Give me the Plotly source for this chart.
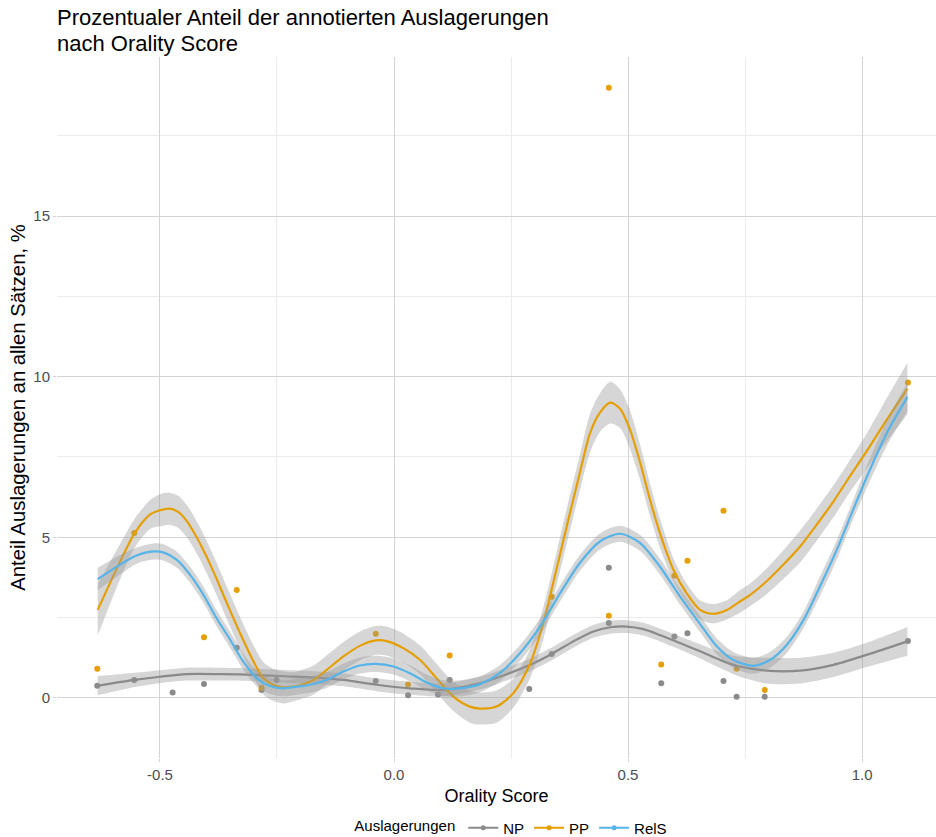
import plotly.graph_objects as go

# ---------------- data ----------------
# observed points (Orality Score vs. percentage)
pt_x = [-0.634, -0.555, -0.473, -0.406, -0.336, -0.283, -0.251, -0.039, 0.030, 0.094, 0.119,
        0.289, 0.337, 0.459, 0.459, 0.571, 0.599, 0.627, 0.704, 0.732, 0.792, 1.098]
np_pts = [0.38, 0.56, 0.17, 0.43, 1.56, 0.25, 0.56, 0.53, 0.08, 0.11, 0.56,
          0.28, 1.37, 4.05, 2.33, 0.46, 1.91, 2.01, 0.53, 0.04, 0.04, 1.77]
pp_pts = [0.91, 5.13, None, 1.89, 3.36, 0.32, None, 2.00, 0.42, None, 1.32,
          None, 3.15, 18.99, 2.56, 1.04, 3.80, 4.27, 5.83, 0.91, 0.25, 9.82]

# smoothed curves
pp_cx = [-0.633, -0.585, -0.554, -0.521, -0.50, -0.48, -0.461, -0.44, -0.415, -0.386, -0.357, -0.329,
         -0.30, -0.279, -0.258, -0.237, -0.215, -0.172, -0.144, -0.108, -0.073, -0.039, -0.016, 0.02,
         0.056, 0.091, 0.127, 0.162, 0.184, 0.219, 0.255, 0.291, 0.319, 0.34, 0.369, 0.397, 0.419,
         0.44, 0.462, 0.483, 0.504, 0.526, 0.547, 0.568, 0.597, 0.625, 0.654, 0.682, 0.711, 0.739,
         0.761, 0.796, 0.832, 0.868, 0.903, 0.939, 0.974, 1.01, 1.046, 1.097]
pp_cy = [2.74, 4.25, 5.13, 5.71, 5.84, 5.89, 5.79, 5.45, 4.82, 3.94, 2.95, 2.02,
         1.13, 0.61, 0.41, 0.33, 0.35, 0.56, 0.87, 1.29, 1.62, 1.79, 1.77, 1.55,
         1.18, 0.61, 0.04, -0.27, -0.33, -0.27, 0.15, 1.08, 2.33, 3.57, 5.34, 7.0, 8.25,
         8.88, 9.19, 9.0, 8.36, 7.32, 6.17, 5.14, 3.99, 3.26, 2.74, 2.62, 2.74, 3.0,
         3.21, 3.63, 4.15, 4.72, 5.39, 6.12, 6.90, 7.68, 8.51, 9.63]
pp_se = [0.8, 0.55, 0.45, 0.45, 0.5, 0.5, 0.5, 0.5, 0.5, 0.5, 0.5, 0.5,
         0.5, 0.5, 0.5, 0.5, 0.45, 0.45, 0.45, 0.45, 0.45, 0.45, 0.45, 0.45,
         0.45, 0.45, 0.45, 0.5, 0.5, 0.5, 0.45, 0.45, 0.5, 0.5, 0.55, 0.55, 0.6,
         0.6, 0.65, 0.6, 0.6, 0.55, 0.5, 0.45, 0.35, 0.3, 0.3, 0.3, 0.3, 0.35,
         0.35, 0.4, 0.45, 0.5, 0.5, 0.5, 0.5, 0.55, 0.65, 0.8]

rels_cx = [-0.633, -0.585, -0.55, -0.514, -0.493, -0.464, -0.436, -0.407, -0.379, -0.35, -0.322,
           -0.293, -0.265, -0.237, -0.208, -0.179, -0.144, -0.108, -0.073, -0.039, -0.001, 0.034,
           0.07, 0.105, 0.141, 0.184, 0.226, 0.269, 0.312, 0.355, 0.397, 0.44, 0.483, 0.526, 0.568,
           0.611, 0.654, 0.69, 0.725, 0.768, 0.803, 0.839, 0.875, 0.91, 0.946, 0.981, 1.017, 1.053, 1.097]
rels_cy = [3.70, 4.15, 4.43, 4.56, 4.53, 4.30, 3.84, 3.21, 2.48, 1.81, 1.13,
           0.61, 0.37, 0.30, 0.35, 0.41, 0.56, 0.82, 1.01, 1.06, 0.98, 0.77,
           0.48, 0.30, 0.30, 0.43, 0.77, 1.39, 2.22, 3.26, 4.2, 4.87, 5.11, 4.82, 4.09,
           3.16, 2.3, 1.6, 1.18, 1.0, 1.18, 1.65, 2.43, 3.47, 4.61, 5.86, 7.11, 8.25, 9.37]
rels_se = [0.35, 0.3, 0.25, 0.25, 0.25, 0.25, 0.25, 0.25, 0.25, 0.25, 0.25,
           0.25, 0.25, 0.25, 0.25, 0.25, 0.25, 0.25, 0.25, 0.25, 0.25, 0.25,
           0.25, 0.25, 0.25, 0.25, 0.25, 0.25, 0.25, 0.25, 0.25, 0.25, 0.25, 0.25, 0.25,
           0.25, 0.25, 0.25, 0.25, 0.25, 0.25, 0.25, 0.25, 0.3, 0.3, 0.3, 0.35, 0.4, 0.45]

np_cx = [-0.633, -0.554, -0.5, -0.443, -0.372, -0.3, -0.215, -0.179, -0.108, -0.037, 0.034, 0.105,
         0.184, 0.226, 0.291, 0.337, 0.383, 0.426, 0.462, 0.497, 0.533, 0.568, 0.611, 0.654,
         0.697, 0.732, 0.796, 0.868, 0.939, 1.01, 1.097]
np_cy = [0.38, 0.56, 0.66, 0.74, 0.74, 0.72, 0.66, 0.64, 0.56, 0.41, 0.30, 0.25,
         0.46, 0.66, 1.03, 1.37, 1.76, 2.07, 2.20, 2.22, 2.14, 1.96, 1.71, 1.45,
         1.18, 1.0, 0.85, 0.85, 1.03, 1.34, 1.76]
np_se = [0.3, 0.22, 0.2, 0.2, 0.2, 0.2, 0.2, 0.2, 0.2, 0.2, 0.2, 0.2,
         0.2, 0.2, 0.2, 0.2, 0.2, 0.2, 0.2, 0.2, 0.2, 0.2, 0.2, 0.22,
         0.25, 0.3, 0.4, 0.4, 0.38, 0.38, 0.45]

x_ticks = [-0.5, 0.0, 0.5, 1.0]
x_tick_labels = ["-0.5", "0.0", "0.5", "1.0"]
y_ticks = [0, 5, 10, 15]
y_tick_labels = ["0", "5", "10", "15"]

title_lines = ["Prozentualer Anteil der annotierten Auslagerungen", "nach Orality Score"]
series_names = ["NP", "PP", "RelS"]
colors = {"NP": "#8a8a8a", "PP": "#E69F00", "RelS": "#56B4E9"}
band_fill = "rgba(153,153,153,0.4)"

# ---------------- figure ----------------
W, H = 936, 837
ML, MR, MT, MB = 57, 0, 57, 79
PH = H - MT - MB

fig = go.Figure()

# points
fig.add_trace(go.Scatter(x=pt_x, y=np_pts, mode="markers",
                         marker=dict(color=colors["NP"], size=6), showlegend=False, hoverinfo="skip"))
fig.add_trace(go.Scatter(x=pt_x, y=pp_pts, mode="markers",
                         marker=dict(color=colors["PP"], size=6), showlegend=False, hoverinfo="skip"))

curves = [("NP", np_cx, np_cy, np_se), ("PP", pp_cx, pp_cy, pp_se), ("RelS", rels_cx, rels_cy, rels_se)]
for name, cx, cy, se in curves:
    upper = [v + s for v, s in zip(cy, se)]
    lower = [v - s for v, s in zip(cy, se)]
    fig.add_trace(go.Scatter(x=cx, y=upper, mode="lines", line=dict(width=0, shape="spline", smoothing=0.8),
                             showlegend=False, hoverinfo="skip"))
    fig.add_trace(go.Scatter(x=cx, y=lower, mode="lines", line=dict(width=0, shape="spline", smoothing=0.8),
                             fill="tonexty", fillcolor=band_fill, showlegend=False, hoverinfo="skip"))
    fig.add_trace(go.Scatter(x=cx, y=cy, mode="lines",
                             line=dict(color=colors[name], width=2.2, shape="spline", smoothing=0.8),
                             showlegend=False, hoverinfo="skip"))

# legend entries
for name in series_names:
    fig.add_trace(go.Scatter(x=[None], y=[None], mode="lines+markers", name=name,
                             line=dict(color=colors[name], width=2.2),
                             marker=dict(color=colors[name], size=5)))

# title as two annotation lines
title_centers_px = [17.5, 43.0]
for txt, cy_px in zip(title_lines, title_centers_px):
    fig.add_annotation(text=txt, xref="paper", yref="paper", x=0, xanchor="left",
                       y=(H - MB - cy_px) / PH, yanchor="middle", showarrow=False,
                       font=dict(size=22, color="#000000"), xshift=-2)

fig.update_layout(
    width=W, height=H,
    paper_bgcolor="white", plot_bgcolor="white",
    margin=dict(l=ML, r=MR, t=MT, b=MB, autoexpand=False),
    font=dict(family="Liberation Sans, Arial, sans-serif", color="#000000"),
    xaxis=dict(range=[-0.72, 1.158], tickvals=x_ticks, ticktext=x_tick_labels, automargin=False,
               showgrid=True, gridcolor="#d4d4d4", gridwidth=1.1,
               minor=dict(tickvals=[-0.25, 0.25, 0.75], showgrid=True, gridcolor="#ebebeb", gridwidth=1),
               zeroline=False, showline=False,
               ticks="outside", ticklen=3, tickcolor="#d4d4d4",
               tickfont=dict(size=15, color="#4d4d4d"),
               title=dict(text="Orality Score", font=dict(size=18, color="#000000"), standoff=7)),
    yaxis=dict(range=[-1.87, 19.95], tickvals=y_ticks, ticktext=y_tick_labels, automargin=False,
               showgrid=True, gridcolor="#d4d4d4", gridwidth=1.1,
               minor=dict(tickvals=[2.5, 7.5, 12.5, 17.5], showgrid=True, gridcolor="#ebebeb", gridwidth=1),
               zeroline=False, showline=False,
               ticks="outside", ticklen=3, tickcolor="#d4d4d4",
               tickfont=dict(size=15, color="#4d4d4d"),
               title=dict(text="Anteil Auslagerungen an allen Sätzen, %", font=dict(size=20.3, color="#000000"),
                          standoff=2)),
    legend=dict(orientation="h", x=0.518, xanchor="center", y=(758 - 828) / PH, yanchor="middle",
                traceorder="normal",
                title=dict(text="Auslagerungen", side="left", font=dict(size=15)),
                font=dict(size=15), itemwidth=30, tracegroupgap=0),
)

fig.write_html("out.html")
